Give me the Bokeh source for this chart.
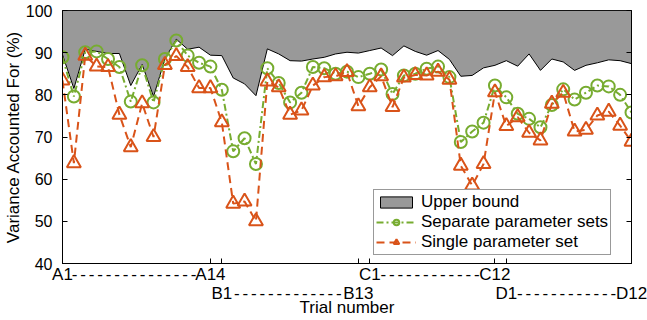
from bokeh.plotting import figure
from bokeh.models import Range1d, LinearAxis, FixedTicker, Legend, LegendItem
from bokeh.embed import file_html
from bokeh.resources import INLINE

# ---- data -----------------------------------------------------------------
trials = list(range(51))  # A1..A14, B1..B13, C1..C12, D1..D12

upper_bound = [89.5, 81.5, 90.8, 90.3, 89.8, 89.8, 82.2, 87.2, 79.6, 88.5,
               93.2, 90.8, 91.3, 89.4, 89.3, 84.0, 82.6, 79.8, 90.9, 89.7,
               88.1, 88.0, 88.5, 88.9, 89.7, 90.1, 89.9, 90.5, 91.1, 89.3,
               91.6, 90.3, 89.4, 90.5, 88.4, 84.4, 84.6, 86.4, 87.0, 88.1,
               86.8, 89.7, 85.8, 88.5, 87.8, 85.8, 87.0, 87.6, 88.3, 88.1,
               87.4]

separate_sets = [88.9, 79.6, 90.1, 90.3, 88.5, 86.6, 78.4, 87.0, 78.2, 88.5,
                 92.9, 89.3, 87.6, 86.7, 81.2, 66.6, 69.7, 63.6, 86.3, 82.8,
                 78.2, 80.5, 86.6, 86.3, 85.0, 85.5, 84.2, 85.0, 86.0, 80.2,
                 84.6, 85.0, 86.2, 86.7, 84.2, 68.8, 71.3, 73.4, 82.2, 79.4,
                 75.5, 74.3, 72.3, 77.6, 81.3, 78.9, 80.5, 82.2, 82.0, 80.0,
                 75.8]

single_set = [83.4, 63.8, 89.3, 86.7, 86.6, 75.3, 67.6, 78.0, 70.0, 87.1,
              89.2, 86.6, 81.6, 81.6, 73.5, 54.2, 54.7, 50.0, 83.2, 81.8,
              75.3, 76.3, 82.2, 84.2, 84.4, 85.4, 77.3, 81.8, 84.4, 77.1,
              84.1, 84.7, 84.6, 85.5, 83.6, 63.2, 58.5, 63.6, 80.6, 72.6,
              74.7, 71.0, 69.2, 77.9, 80.5, 71.3, 71.7, 75.1, 76.0, 72.7,
              68.9]

y_ticks = [40, 50, 60, 70, 80, 90, 100]
group_ticks = [0, 13, 14, 26, 27, 38, 39, 50]
# (first label, last label, first trial, last trial, row)
groups = [("A1", "A14", 0, 13, 0), ("B1", "B13", 14, 26, 1),
          ("C1", "C12", 27, 38, 0), ("D1", "D12", 39, 50, 1)]

# ---- layout ---------------------------------------------------------------
W, H = 647, 320
LEFT, RIGHT, TOP, BOTTOM = 60, 16, 10, 57
FRAME_W = W - LEFT - RIGHT
X0, X1, Y0, Y1 = 0, 50, 40, 100
FONT = "Liberation Sans"
GREEN = "#77AC30"
ORANGE = "#D95319"
TXT = "17px"

p = figure(width=W, height=H, output_backend="svg", toolbar_location=None,
           x_range=Range1d(X0, X1), y_range=Range1d(Y0, Y1),
           min_border_left=LEFT, min_border_right=RIGHT,
           min_border_top=TOP, min_border_bottom=BOTTOM)
p.grid.visible = False
p.outline_line_color = "black"
p.outline_line_width = 1

# y axis (left) with labels, ticks pointing inward
ya = p.yaxis[0]
ya.ticker = FixedTicker(ticks=y_ticks)
ya.major_tick_in = 5
ya.major_tick_out = 0
ya.minor_tick_line_color = None
ya.axis_line_color = "black"
ya.major_label_text_font = FONT
ya.major_label_text_font_size = "16px"
ya.major_label_text_color = "black"
ya.major_label_standoff = 10
ya.axis_label = "Variance Accounted For (%)"
ya.axis_label_text_font = FONT
ya.axis_label_text_font_size = TXT
ya.axis_label_text_font_style = "normal"
ya.axis_label_text_color = "black"
ya.axis_label_standoff = 0

# right axis: inward ticks only
yr = LinearAxis(ticker=FixedTicker(ticks=y_ticks),
                major_label_overrides={t: "" for t in y_ticks},
                major_label_text_font_size="0px", major_label_standoff=0,
                major_tick_in=5, major_tick_out=0,
                minor_tick_line_color=None, axis_line_color="black")
p.add_layout(yr, "right")

# ---- glyphs -----------------------------------------------------------------
area = p.patch(trials + [X1, X0], upper_bound + [Y1, Y1],
               fill_color="#999999", line_color="black", line_width=1)

g_line = p.line(trials, separate_sets, line_color=GREEN, line_width=2,
                line_dash="7 3 2 3")
g_pts = p.scatter(trials, separate_sets, marker="circle", size=12,
                  fill_color=None, line_color=GREEN, line_width=2)

r_line = p.line(trials, single_set, line_color=ORANGE, line_width=2,
                line_dash="8 5")
r_pts = p.scatter(trials, single_set, marker="triangle", size=14,
                  fill_color=None, line_color=ORANGE, line_width=2)

legend = Legend(items=[
    LegendItem(label="Upper bound", renderers=[area]),
    LegendItem(label="Separate parameter sets", renderers=[g_line, g_pts]),
    LegendItem(label="Single parameter set", renderers=[r_line, r_pts]),
], location=(311, 8))
legend.label_text_font = FONT
legend.label_text_font_size = TXT
legend.label_text_color = "black"
legend.glyph_width = 40
legend.glyph_height = 14
legend.label_height = 17
legend.label_standoff = 5
legend.padding = 2
legend.spacing = -2
legend.border_line_color = "#333333"
legend.border_line_width = 1
legend.background_fill_color = "white"
legend.background_fill_alpha = 1
p.add_layout(legend)

# ---- bottom axis: group ticks (minor, inward) and two rows of labels -------
PX_PER_X = FRAME_W / (X1 - X0)
EM = {"A": .667, "B": .667, "C": .722, "D": .722}
SIZE_PX = 17
DASH = "-\u200a\u200a"               # hyphen followed by two hair spaces
DASH_PERIOD = 8.1                    # px per DASH at 17px


def text_w(s):
    return sum(EM.get(c, .556) for c in s) * SIZE_PX


labels = {}
for first, last, i0, i1, row in groups:
    pre = "\n" * row                  # second row sits one line lower
    labels[i0] = pre + first
    labels[i1] = pre + last
    gap = (i1 - i0) * PX_PER_X - (text_w(first) + text_w(last)) / 2
    n = max(1, int(gap / DASH_PERIOD))
    left_edge = i0 + text_w(first) / 2 / PX_PER_X
    right_edge = i1 - text_w(last) / 2 / PX_PER_X
    mid = round((left_edge + right_edge) / 2, 3)
    labels[mid] = pre + (DASH * n).rstrip("\u200a")

label_ticks = sorted(labels)
xa = p.xaxis[0]
xa.ticker = FixedTicker(ticks=label_ticks, minor_ticks=group_ticks)
xa.major_label_overrides = {t: labels[t] for t in label_ticks}
xa.major_label_text_font = FONT
xa.major_label_text_font_size = TXT
xa.major_label_text_color = "black"
xa.major_label_text_line_height = 1.03
xa.major_label_standoff = -5
xa.major_tick_line_color = None
xa.minor_tick_in = 5
xa.minor_tick_out = 0
xa.minor_tick_line_color = "black"
xa.axis_line_color = "black"
xa.axis_label = "Trial number"
xa.axis_label_text_font = FONT
xa.axis_label_text_font_size = TXT
xa.axis_label_text_font_style = "normal"
xa.axis_label_text_color = "black"
xa.axis_label_standoff = -8

open("out.html", "w").write(file_html(p, INLINE))
